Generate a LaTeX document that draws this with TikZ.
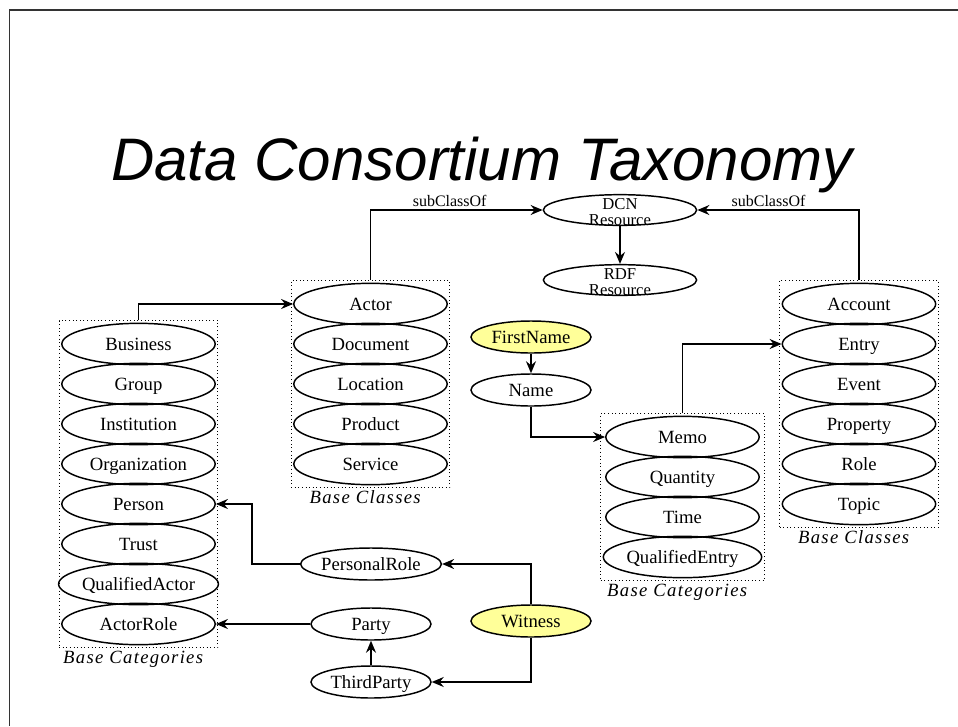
\documentclass[tikz,border=0pt]{standalone}
\usepackage{fontspec}
\setmainfont{Liberation Serif}
\setsansfont{Liberation Sans}
\newfontfamily\captionfont[LetterSpace=7]{Liberation Serif}
\usetikzlibrary{shapes,arrows.meta,fit,positioning}
\definecolor{hilite}{RGB}{255,255,153}
% two lines hanging below the node centre, not counted in its size
\newcommand{\twolines}[2]{\raisebox{-11.5pt}[0pt][0pt]{\begin{tabular}[b]{@{}c@{}}#1\\#2\end{tabular}}}

\begin{document}
\begin{tikzpicture}[x=0.75pt,y=-0.75pt]
    \tikzstyle{cls}=[ellipse,draw,line width=1.1pt,minimum width=115pt,minimum height=31pt,inner sep=0pt,text height=12pt,text depth=3pt,font=\fontsize{14}{16}\selectfont]
    \tikzstyle{term}=[cls,minimum width=90pt,minimum height=24pt]
    \tikzstyle{hot}=[term,fill=hilite]          % highlighted term
    \tikzstyle{res}=[cls,minimum height=23pt,text height=,text depth=,font=\fontsize{12.5}{11.5}\selectfont]
    \tikzstyle{group}=[draw,dotted,line width=0.7pt,inner sep=1.5pt]
    \tikzstyle{caption}=[font=\captionfont\itshape\fontsize{14}{16}\selectfont,inner sep=2pt,anchor=north,xshift=-4pt]
    \tikzstyle{link}=[line width=1.1pt,-{Stealth[length=9pt,width=7.5pt,inset=3pt]}]
    \tikzstyle{tag}=[font=\fontsize{12}{14}\selectfont,above,inner sep=2pt]

    \useasboundingbox (0,0) rectangle (958,726);
    \draw[black!80,line width=1.5pt] (9,10) -- (958,10);
    \draw[black!80,line width=0.75pt] (9,10) -- (9,726);

    \node[font=\sffamily\itshape\fontsize{45}{50}\selectfont,anchor=base] (title) at (482,180) {Data Consortium Taxonomy};

    % resources
    \node[res] (DCN) at (620,210) {\twolines{DCN}{Resource}};
    \node[res] (RDF) at (620,280) {\twolines{RDF}{Resource}};

    % base categories (actors)
    \node[cls] (Business)       at (138.5,344) {Business};
    \node[cls] (Group)          at (138.5,384) {Group};
    \node[cls] (Institution)    at (138.5,424) {Institution};
    \node[cls] (Organization)   at (138.5,464) {Organization};
    \node[cls] (Person)         at (138.5,504) {Person};
    \node[cls] (Trust)          at (138.5,544) {Trust};
    \node[cls] (QualifiedActor) at (138.5,584) {QualifiedActor};
    \node[cls] (ActorRole)      at (138.5,624) {ActorRole};
    \node[group,fit=(Business)(ActorRole)] (catsA) {};
    \node[caption] at (catsA.south) {Base Categories};

    % base classes
    \node[cls] (Actor)    at (370.5,304) {Actor};
    \node[cls] (Document) at (370.5,344) {Document};
    \node[cls] (Location) at (370.5,384) {Location};
    \node[cls] (Product)  at (370.5,424) {Product};
    \node[cls] (Service)  at (370.5,464) {Service};
    \node[group,fit=(Actor)(Service)] (classesA) {};
    \node[caption] at (classesA.south) {Base Classes};

    \node[cls] (Account)  at (859,304) {Account};
    \node[cls] (Entry)    at (859,344) {Entry};
    \node[cls] (Event)    at (859,384) {Event};
    \node[cls] (Property) at (859,424) {Property};
    \node[cls] (Role)     at (859,464) {Role};
    \node[cls] (Topic)    at (859,504) {Topic};
    \node[group,fit=(Account)(Topic)] (classesB) {};
    \node[caption] at (classesB.south) {Base Classes};

    % base categories (entries)
    \node[cls] (Memo)           at (682.5,437) {Memo};
    \node[cls] (Quantity)       at (682.5,477) {Quantity};
    \node[cls] (Time)           at (682.5,517) {Time};
    \node[cls] (QualifiedEntry) at (682.5,557) {QualifiedEntry};
    \node[group,fit=(Memo)(QualifiedEntry)] (catsB) {};
    \node[caption] at (catsB.south) {Base Categories};

    % terms
    \node[hot]  (FirstName)    at (531,337) {FirstName};
    \node[term] (Name)         at (531,390) {Name};
    \node[term] (PersonalRole) at (371,564) {PersonalRole};
    \node[term] (Party)        at (371,624) {Party};
    \node[term] (ThirdParty)   at (371,682) {ThirdParty};
    \node[hot]  (Witness)      at (531,621) {Witness};

    \draw[link] (classesA.north) |- (DCN.west) node[tag,pos=0.73] {subClassOf};
    \draw[link] (classesB.north) |- (DCN.east) node[tag,pos=0.78] {subClassOf};
    \draw[link] (DCN) -- (RDF);
    \draw[link] (catsA.north) |- (Actor.west);
    \draw[link] (FirstName) -- (Name);
    \draw[link] (Name.south) |- (Memo.west);
    \draw[link] (catsB.north) |- (Entry.west);
    \draw[link] (Witness.north) |- (PersonalRole.east);
    \draw[link] (Witness.south) |- (ThirdParty.east);
    \draw[link] (ThirdParty) -- (Party);
    \draw[link] (Party.west) -- (ActorRole.east);
    \draw[link] (PersonalRole.west) -- ++(-48,0) |- (Person.east);
\end{tikzpicture}
\end{document}
